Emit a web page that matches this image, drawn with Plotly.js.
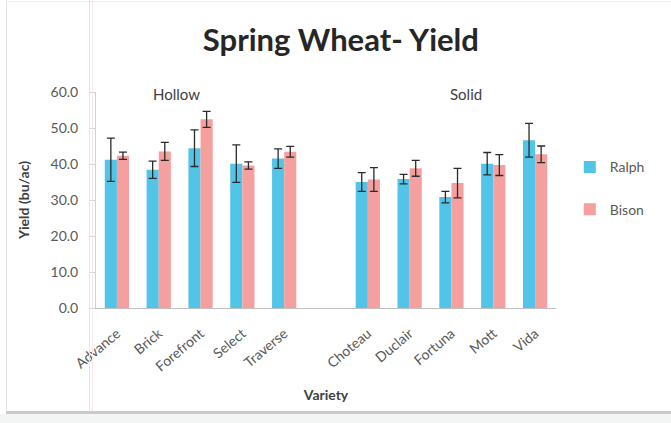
<!DOCTYPE html>
<html>
<head>
<meta charset="utf-8">
<script src="https://cdn.plot.ly/plotly-3.0.1.min.js"></script>
<style>
  html, body { margin: 0; padding: 0; background: #fff; }
  #wrap { position: relative; width: 671px; height: 423px; overflow: hidden; }
  #chart { width: 671px; height: 423px; }
  .ln { position: absolute; pointer-events: none; }
</style>
</head>
<body>
<div id="wrap">
  <div id="chart"></div>
  <div class="ln" style="left:6px;top:0;width:1px;height:413px;background:#e2e2e2;"></div>
  <div class="ln" style="left:6px;top:1px;width:665px;height:1px;background:#ececec;"></div>
  <div class="ln" style="left:89px;top:0;width:1px;height:423px;background:#f7dde6;"></div>
  <div class="ln" style="left:92px;top:0;width:1px;height:423px;background:#f9e6ed;"></div>
  <div class="ln" style="left:6px;top:411px;width:665px;height:3px;background:#c9cbcc;"></div>
  <div class="ln" style="left:0;top:414px;width:671px;height:9px;background:#f3f4f4;"></div>
</div>
<script>
// Varieties (blank slot separates the Hollow and Solid groups)
const categories = ['Advance', 'Brick', 'Forefront', 'Select', 'Traverse', ' ',
                    'Choteau', 'Duclair', 'Fortuna', 'Mott', 'Vida'];
const ralph    = [41.2, 38.4, 44.4, 40.1, 41.5, null, 35.0, 35.8, 30.8, 40.1, 46.6];
const ralphErr = [6.0, 2.4, 5.1, 5.2, 2.7, null, 2.6, 1.3, 1.6, 3.1, 4.7];
const bison    = [42.3, 43.5, 52.4, 39.6, 43.4, null, 35.7, 38.8, 34.7, 39.7, 42.7];
const bisonErr = [1.0, 2.5, 2.2, 1.0, 1.5, null, 3.3, 2.2, 4.1, 2.9, 2.3];
const seriesNames = ['Ralph', 'Bison'];
const groupLabels = ['Hollow', 'Solid'];
const yTicks = [0, 10, 20, 30, 40, 50, 60];

const FONT = 'Lato, "Open Sans", "Liberation Sans", sans-serif';
const errStyle = { type: 'data', visible: true, color: '#2b2b2b', thickness: 1.3, width: 4 };

const traces = [
  {
    type: 'bar', name: seriesNames[0], x: categories, y: ralph, legendgroup: 'a',
    marker: { color: '#52c4e7' },
    error_y: Object.assign({ array: ralphErr }, errStyle)
  },
  {
    type: 'bar', name: seriesNames[1], x: categories, y: bison, legendgroup: 'b',
    marker: { color: '#f5a09f' },
    error_y: Object.assign({ array: bisonErr }, errStyle)
  }
];

const layout = {
  width: 671, height: 423,
  margin: { l: 96, r: 115, t: 92, b: 115 },
  paper_bgcolor: 'rgba(0,0,0,0)', plot_bgcolor: 'rgba(0,0,0,0)',
  font: { family: FONT, color: '#595959', size: 13 },
  title: {
    text: '<b>Spring Wheat- Yield</b>',
    font: { family: FONT, size: 31, color: '#262626' },
    x: 0.508, xanchor: 'center', y: 0.905, yanchor: 'middle'
  },
  barmode: 'group', bargap: 0.42, bargroupgap: 0,
  showlegend: true,
  legend: {
    x: 1.03, xanchor: 'left', y: 0.725, yanchor: 'top',
    bgcolor: 'rgba(0,0,0,0)', tracegroupgap: 21,
    font: { family: FONT, size: 14, color: '#595959' }
  },
  xaxis: {
    type: 'category', categoryorder: 'array', categoryarray: categories,
    showline: true, linecolor: '#bfbfbf', linewidth: 1,
    ticks: '', tickangle: -40, showgrid: false, zeroline: false,
    ticklabelstandoff: 11,
    tickfont: { family: FONT, size: 14, color: '#595959' },
    title: { text: '<b>Variety</b>', font: { family: FONT, size: 14, color: '#404040' }, standoff: 16 }
  },
  yaxis: {
    range: [0, 60], tickvals: yTicks, tickformat: '.1f',
    showline: true, linecolor: '#d0d0d0', linewidth: 1,
    ticks: 'outside', ticklen: 5, tickcolor: '#d0d0d0',
    ticklabelstandoff: 9,
    showgrid: false, zeroline: false,
    tickfont: { family: FONT, size: 14, color: '#595959' },
    title: { text: '<b>Yield (bu/ac)</b>', font: { family: FONT, size: 14, color: '#404040' }, standoff: 17 }
  },
  annotations: [
    { xref: 'paper', yref: 'paper', x: 0.176, y: 0.99, text: groupLabels[0], showarrow: false,
      xanchor: 'center', yanchor: 'middle', font: { family: FONT, size: 15, color: '#404040' } },
    { xref: 'paper', yref: 'paper', x: 0.804, y: 0.99, text: groupLabels[1], showarrow: false,
      xanchor: 'center', yanchor: 'middle', font: { family: FONT, size: 15, color: '#404040' } }
  ]
};

Plotly.newPlot('chart', traces, layout, { displayModeBar: false, staticPlot: true });
</script>
</body>
</html>
